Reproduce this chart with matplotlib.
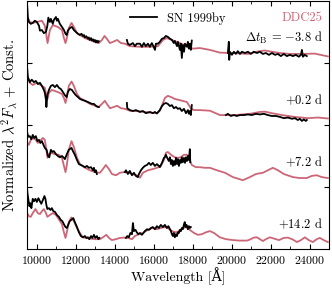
import numpy as np
import matplotlib
matplotlib.use('Agg')
from matplotlib import pyplot as plt
from matplotlib.ticker import MultipleLocator

plt.rcParams['font.family'] = 'serif'
plt.rcParams['font.serif'] = ['cmr10']
plt.rcParams['mathtext.fontset'] = 'cm'
plt.rcParams['axes.formatter.use_mathtext'] = True

# epochs (days from B max) and vertical offsets
epoch_labels = [r'$\Delta t_{\rm B}$ = $-3.8$ d', r'$+0.2$ d', r'$+7.2$ d', r'$+14.2$ d']
offsets = [3, 2, 1, 0]

# DDC25 model spectra (wavelength in A, normalized lambda^2 F_lambda)
mod_wl_1 = [9540, 9650, 9800, 10010, 10270, 10420, 10560, 10680, 10830, 11090, 11300, 11400,
            11480, 11550, 11650, 11790, 11910, 12070, 12220, 12480, 12730, 12990, 13190, 13350,
            13480, 13600, 13760, 13920, 14130, 14320, 14530, 14780, 15300, 15810, 16220, 16480,
            16680, 16940, 17350, 17710, 18020, 18370, 18890, 19400, 20070, 20840, 21350, 21710,
            22070, 22480, 22990, 23500, 24270, 24940]
mod_fl_1 = [0.73, 0.66, 0.645, 0.66, 0.68, 0.60, 0.32, 0.53, 0.61, 0.58, 0.53, 0.40,
            0.32, 0.40, 0.56, 0.645, 0.58, 0.48, 0.45, 0.40, 0.37, 0.34, 0.32, 0.37,
            0.435, 0.39, 0.32, 0.34, 0.37, 0.32, 0.31, 0.27, 0.26, 0.26, 0.27, 0.37,
            0.40, 0.37, 0.32, 0.27, 0.23, 0.24, 0.21, 0.166, 0.16, 0.145, 0.185, 0.20,
            0.18, 0.16, 0.145, 0.145, 0.15, 0.105]

mod_wl_2 = [9540, 9650, 9800, 10010, 10270, 10420, 10500, 10560, 10630, 10780, 11090, 11300,
            11400, 11480, 11550, 11650, 11790, 11910, 12070, 12220, 12480, 12730, 12990, 13190,
            13350, 13500, 13600, 13760, 13960, 14130, 14320, 14530, 14780, 15300, 15810, 16170,
            16320, 16480, 16580, 16730, 16890, 17090, 17350, 17710, 17910, 18070, 18370, 18890,
            19400, 20170, 20940, 21450, 21710, 22070, 22580, 23250, 23910, 24430, 24940]
mod_fl_2 = [0.78, 0.68, 0.645, 0.68, 0.63, 0.60, 0.48, 0.42, 0.52, 0.565, 0.53, 0.50,
            0.435, 0.355, 0.45, 0.63, 0.70, 0.63, 0.50, 0.435, 0.39, 0.34, 0.31, 0.29,
            0.34, 0.39, 0.34, 0.27, 0.29, 0.31, 0.27, 0.26, 0.23, 0.22, 0.20, 0.19,
            0.23, 0.355, 0.435, 0.47, 0.45, 0.42, 0.40, 0.37, 0.27, 0.24, 0.24, 0.23,
            0.16, 0.16, 0.18, 0.21, 0.215, 0.19, 0.16, 0.13, 0.11, 0.12, 0.105]

mod_wl_3 = [9540, 9600, 9700, 9800, 9960, 10060, 10220, 10320, 10420, 10500, 10560, 10630,
            10730, 10940, 11140, 11300, 11400, 11480, 11550, 11650, 11790, 11910, 12070, 12220,
            12480, 12730, 12990, 13250, 13400, 13550, 13710, 13860, 14070, 14270, 14480, 14680,
            14890, 15140, 15300, 15450, 15710, 15960, 16170, 16370, 16530, 16630, 16730, 16890,
            17090, 17250, 17400, 17560, 17710, 17860, 17960, 18170, 18370, 18630, 18890, 19250,
            19660, 20070, 20580, 20940, 21250, 21610, 21860, 22120, 22380, 22680, 23150, 23500,
            23860, 24120, 24370, 24630, 24940]
mod_fl_3 = [0.71, 0.68, 0.76, 0.79, 0.76, 0.71, 0.76, 0.79, 0.76, 0.60, 0.47, 0.53,
            0.55, 0.53, 0.52, 0.47, 0.34, 0.24, 0.355, 0.60, 0.74, 0.645, 0.47, 0.37,
            0.31, 0.27, 0.24, 0.23, 0.29, 0.355, 0.29, 0.21, 0.19, 0.23, 0.24, 0.24,
            0.21, 0.19, 0.15, 0.23, 0.27, 0.29, 0.31, 0.34, 0.435, 0.55, 0.565, 0.52,
            0.48, 0.47, 0.48, 0.52, 0.52, 0.435, 0.355, 0.32, 0.32, 0.31, 0.31, 0.27,
            0.23, 0.16, 0.11, 0.16, 0.21, 0.23, 0.27, 0.31, 0.27, 0.21, 0.16, 0.145,
            0.145, 0.18, 0.19, 0.16, 0.145]

mod_wl_4 = [9540, 9600, 9700, 9800, 9940, 10060, 10170, 10270, 10370, 10480, 10550, 10680,
            10830, 10990, 11140, 11300, 11400, 11480, 11550, 11650, 11780, 11910, 12070, 12220,
            12370, 12530, 12730, 12990, 13250, 13400, 13580, 13710, 13860, 14070, 14270, 14480,
            14680, 14890, 15040, 15250, 15450, 15710, 15960, 16170, 16370, 16580, 16730, 16940,
            17150, 17300, 17500, 17710, 17860, 18070, 18270, 18480, 18680, 18890, 19100, 19400,
            19710, 20070, 20430, 20790, 20940, 21140, 21300, 21450, 21610, 21760, 21970, 22170,
            22430, 22680, 22890, 23150, 23350, 23560, 23760, 23960, 24170, 24370, 24530, 24730,
            24940]
mod_fl_4 = [0.565, 0.53, 0.52, 0.58, 0.645, 0.58, 0.565, 0.61, 0.645, 0.58, 0.52, 0.55,
            0.58, 0.55, 0.48, 0.40, 0.27, 0.18, 0.27, 0.435, 0.51, 0.45, 0.34, 0.26,
            0.19, 0.18, 0.17, 0.16, 0.16, 0.19, 0.23, 0.18, 0.145, 0.16, 0.18, 0.185,
            0.18, 0.16, 0.21, 0.24, 0.26, 0.31, 0.34, 0.32, 0.34, 0.355, 0.34, 0.29,
            0.27, 0.29, 0.34, 0.355, 0.31, 0.26, 0.23, 0.24, 0.27, 0.29, 0.26, 0.19,
            0.16, 0.145, 0.137, 0.137, 0.153, 0.185, 0.19, 0.16, 0.13, 0.16, 0.19, 0.17,
            0.145, 0.18, 0.185, 0.153, 0.113, 0.145, 0.19, 0.145, 0.113, 0.16, 0.18, 0.145,
            0.113]

# SN 1999by observed spectra, each split into segments (J, H, K bands)
obs_wl_1a = [9510, 9530, 9550, 9600, 9700, 9800, 9910, 10010, 10120, 10170, 10270, 10370,
             10480, 10550, 10600, 10680, 10730, 10830, 10880, 10990, 11040, 11090, 11190, 11300,
             11400, 11480, 11540, 11600, 11700, 11810, 11910, 12010, 12120, 12220, 12300, 12370,
             12430, 12480, 12550, 12630, 12680, 12730, 12790, 12840, 12890, 12940, 12990, 13040,
             13090, 13140, 13190]
obs_fl_1a = [0.94, 0.85, 0.73, 0.66, 0.63, 0.645, 0.68, 0.66, 0.60, 0.52, 0.53, 0.48,
             0.50, 0.60, 0.73, 0.66, 0.71, 0.63, 0.69, 0.74, 0.68, 0.71, 0.63, 0.58,
             0.53, 0.47, 0.45, 0.52, 0.56, 0.58, 0.53, 0.50, 0.47, 0.45, 0.47, 0.435,
             0.45, 0.41, 0.43, 0.39, 0.41, 0.37, 0.40, 0.36, 0.38, 0.345, 0.37, 0.33,
             0.36, 0.33, 0.35]
obs_wl_1b = [14630, 14680, 14780, 14940, 15040, 15140, 15300, 15400, 15500, 15600, 15710, 15810,
             15910, 15960, 16070, 16120, 16220, 16320, 16430, 16530, 16630, 16730, 16840, 16940,
             17040, 17090, 17200, 17250, 17350, 17400, 17450, 17500, 17560, 17610, 17710, 17760,
             17810, 17860, 17910, 17960]
obs_fl_1b = [0.37, 0.31, 0.29, 0.32, 0.27, 0.31, 0.31, 0.26, 0.32, 0.27, 0.31, 0.26,
             0.32, 0.29, 0.21, 0.31, 0.31, 0.34, 0.39, 0.40, 0.435, 0.42, 0.39, 0.37,
             0.32, 0.355, 0.27, 0.34, 0.21, 0.31, 0.08, 0.29, 0.18, 0.31, 0.26, 0.34,
             0.23, 0.31, 0.21, 0.36]
obs_wl_1c = [19810, 19860, 19880, 19910, 20020, 20120, 20220, 20320, 20430, 20530, 20690, 20840,
             20990, 21140, 21300, 21450, 21610, 21760, 21920, 22070, 22230, 22380, 22530, 22680,
             22840, 22990, 23150, 23300, 23450, 23560, 23610, 23660, 23760, 23860]
obs_fl_1c = [0.16, 0.34, 0.05, 0.18, 0.13, 0.18, 0.145, 0.19, 0.145, 0.18, 0.16, 0.18,
             0.145, 0.18, 0.16, 0.18, 0.145, 0.16, 0.13, 0.16, 0.13, 0.145, 0.11, 0.145,
             0.11, 0.13, 0.11, 0.13, 0.10, 0.13, 0.21, 0.10, 0.13, 0.11]

obs_wl_2a = [9510, 9530, 9550, 9600, 9650, 9750, 9860, 9960, 10060, 10170, 10270, 10370,
             10420, 10480, 10500, 10550, 10630, 10730, 10830, 10940, 11040, 11140, 11240, 11350,
             11450, 11540, 11600, 11700, 11810, 11910, 12010, 12120, 12220, 12370, 12480, 12630,
             12730, 12840, 12940, 13040, 13140, 13190]
obs_fl_2a = [0.935, 0.855, 0.77, 0.73, 0.69, 0.73, 0.69, 0.71, 0.66, 0.68, 0.63, 0.565,
             0.52, 0.40, 0.29, 0.48, 0.565, 0.63, 0.645, 0.61, 0.645, 0.60, 0.58, 0.53,
             0.48, 0.45, 0.53, 0.58, 0.565, 0.52, 0.48, 0.45, 0.42, 0.40, 0.39, 0.37,
             0.355, 0.34, 0.34, 0.31, 0.29, 0.29]
obs_wl_2b = [14630, 14650, 14780, 14940, 15090, 15300, 15450, 15600, 15810, 15960, 16070, 16170,
             16320, 16430, 16530, 16630, 16730, 16840, 16940, 17040, 17150, 17250, 17350, 17450,
             17560, 17660, 17760, 17810, 17860, 17910, 17960]
obs_fl_2b = [0.355, 0.27, 0.24, 0.225, 0.24, 0.21, 0.225, 0.19, 0.21, 0.19, 0.21, 0.185,
             0.24, 0.305, 0.34, 0.355, 0.34, 0.305, 0.32, 0.27, 0.29, 0.26, 0.27, 0.225,
             0.26, 0.19, 0.24, 0.18, 0.225, 0.16, 0.32]
obs_wl_2c = [19710, 19810, 19960, 20120, 20270, 20430, 20630, 20840, 21040, 21250, 21450, 21660,
             21860, 22070, 22280, 22480, 22680, 22890, 23100, 23250, 23400, 23500, 23610, 23710,
             23810, 23860]
obs_fl_2c = [0.16, 0.18, 0.145, 0.16, 0.145, 0.16, 0.16, 0.17, 0.16, 0.18, 0.17, 0.18,
             0.16, 0.145, 0.145, 0.13, 0.11, 0.12, 0.10, 0.11, 0.08, 0.10, 0.065, 0.09,
             0.065, 0.08]

obs_wl_3a = [9510, 9530, 9580, 9650, 9730, 9800, 9880, 9960, 10040, 10120, 10190, 10270,
             10350, 10420, 10510, 10580, 10650, 10730, 10810, 10880, 10990, 11090, 11190, 11300,
             11400, 11450, 11550, 11650, 11790, 11860, 11960, 12070, 12170, 12270, 12370, 12480,
             12580, 12680, 12790, 12890, 12940, 12990, 13040, 13090]
obs_fl_3a = [0.89, 0.855, 0.81, 0.82, 0.77, 0.84, 0.79, 0.82, 0.74, 0.76, 0.71, 0.74,
             0.68, 0.63, 0.60, 0.50, 0.48, 0.60, 0.565, 0.58, 0.53, 0.50, 0.48, 0.50,
             0.47, 0.45, 0.53, 0.60, 0.63, 0.58, 0.52, 0.435, 0.37, 0.355, 0.34, 0.32,
             0.34, 0.31, 0.32, 0.27, 0.31, 0.24, 0.27, 0.21]
obs_wl_3b = [14530, 14580, 14680, 14780, 14890, 14990, 15090, 15190, 15250, 15350, 15450, 15550,
             15660, 15760, 15860, 15960, 16070, 16170, 16270, 16320, 16430, 16530, 16580, 16630,
             16700, 16780, 16840, 16890, 16940, 16990, 17040, 17090, 17150, 17200, 17250, 17300,
             17350, 17400, 17450, 17500, 17560, 17610, 17660, 17710, 17760, 17810, 17860, 17880]
obs_fl_3b = [0.24, 0.27, 0.21, 0.26, 0.19, 0.23, 0.18, 0.16, 0.21, 0.27, 0.31, 0.34,
             0.355, 0.39, 0.355, 0.39, 0.34, 0.37, 0.34, 0.32, 0.39, 0.47, 0.48, 0.52,
             0.47, 0.42, 0.48, 0.37, 0.435, 0.34, 0.42, 0.355, 0.47, 0.37, 0.45, 0.34,
             0.435, 0.39, 0.48, 0.40, 0.47, 0.39, 0.48, 0.42, 0.50, 0.435, 0.61, 0.40]

obs_wl_4a = [9510, 9530, 9580, 9630, 9680, 9730, 9800, 9860, 9940, 10010, 10090, 10170,
             10240, 10320, 10400, 10450, 10500, 10550, 10630, 10710, 10780, 10860, 10940, 11040,
             11140, 11240, 11320, 11400, 11480, 11550, 11630, 11700, 11810, 11880, 11960, 12070,
             12170, 12270, 12370, 12480, 12550, 12630, 12700, 12790, 12860, 12940, 13010, 13090,
             13170, 13220]
obs_fl_4a = [0.98, 0.90, 0.79, 0.69, 0.74, 0.66, 0.81, 0.77, 0.81, 0.76, 0.82, 0.77,
             0.73, 0.79, 0.855, 0.81, 0.71, 0.645, 0.66, 0.63, 0.66, 0.61, 0.60, 0.55,
             0.52, 0.47, 0.45, 0.40, 0.355, 0.34, 0.40, 0.45, 0.48, 0.50, 0.435, 0.355,
             0.27, 0.21, 0.19, 0.21, 0.18, 0.19, 0.16, 0.21, 0.18, 0.23, 0.18, 0.21,
             0.16, 0.18]
obs_wl_4b = [14580, 14650, 14730, 14810, 14890, 14940, 14990, 15070, 15140, 15220, 15300, 15400,
             15480, 15550, 15660, 15760, 15860, 15960, 16070, 16170, 16270, 16370, 16480, 16580,
             16680, 16760, 16840, 16890, 16940, 16990, 17040, 17090, 17150, 17200, 17250, 17300,
             17350, 17400, 17450, 17500, 17560, 17600, 17640, 17690, 17760, 17810, 17860, 17910]
obs_fl_4b = [0.18, 0.21, 0.19, 0.26, 0.24, 0.42, 0.29, 0.31, 0.27, 0.24, 0.26, 0.23,
             0.26, 0.29, 0.32, 0.31, 0.34, 0.355, 0.32, 0.37, 0.34, 0.39, 0.355, 0.39,
             0.34, 0.37, 0.32, 0.29, 0.24, 0.21, 0.26, 0.19, 0.24, 0.21, 0.27, 0.26,
             0.31, 0.29, 0.34, 0.32, 0.40, 0.435, 0.355, 0.39, 0.32, 0.37, 0.34, 0.355]

models = [(mod_wl_1, mod_fl_1), (mod_wl_2, mod_fl_2), (mod_wl_3, mod_fl_3), (mod_wl_4, mod_fl_4)]
observed = [
    [(obs_wl_1a, obs_fl_1a), (obs_wl_1b, obs_fl_1b), (obs_wl_1c, obs_fl_1c)],
    [(obs_wl_2a, obs_fl_2a), (obs_wl_2b, obs_fl_2b), (obs_wl_2c, obs_fl_2c)],
    [(obs_wl_3a, obs_fl_3a), (obs_wl_3b, obs_fl_3b)],
    [(obs_wl_4a, obs_fl_4a), (obs_wl_4b, obs_fl_4b)],
]

pink = '#cc6677'

fig = plt.figure(figsize=(3.32, 2.91), dpi=100)
ax = fig.add_axes([0.081, 0.144, 0.910, 0.853])

for i in range(4):
    off = offsets[i]
    mwl, mfl = models[i]
    ax.plot(mwl, np.array(mfl) + off, color=pink, lw=1.3, zorder=2)
    for wl, fl in observed[i]:
        lab = 'SN 1999by' if (i == 0 and wl is obs_wl_1a) else None
        ax.plot(wl, np.array(fl) + off, color='k', lw=1.3, zorder=3, label=lab)
    ax.text(24700, off + 0.4, epoch_labels[i], ha='right', va='center', fontsize=9)

ax.text(0.977, 0.93, 'DDC25', color=pink, ha='right', va='center', fontsize=9,
        transform=ax.transAxes)
ax.legend(loc='upper center', bbox_to_anchor=(0.5, 1.0), frameon=False, fontsize=9,
          handlelength=2.2)

ax.set_xlim(9500, 25000)
ax.set_ylim(0, 4)
ax.xaxis.set_major_locator(MultipleLocator(2000))
ax.xaxis.set_minor_locator(MultipleLocator(1000))
ax.set_yticks([1, 2, 3])
ax.set_yticklabels([])
ax.tick_params(which='both', direction='in', top=True, right=True, labelsize=8.5)
ax.tick_params(which='major', length=3.5)
ax.tick_params(which='minor', length=2)
ax.set_xlabel('Wavelength [Å]', fontsize=10, labelpad=1,
              family=['cmr10', 'DejaVu Serif'])
ax.set_ylabel(r'Normalized $\lambda^2 F_\lambda$ + Const.', fontsize=10.5, labelpad=2)

fig.savefig('out.png', dpi=100)
